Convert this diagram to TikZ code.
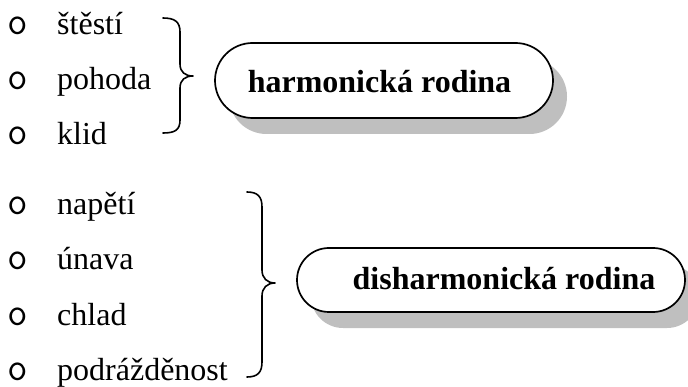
\documentclass[tikz,border=0pt]{standalone}
\usepackage{fontspec}
\setmainfont{Liberation Serif}
\usetikzlibrary{shapes.misc,shadows}
\begin{document}
\begin{tikzpicture}[x=1pt,y=-1pt,
  itemtext/.style={anchor=base west,inner sep=0pt,font=\fontsize{32}{38}\selectfont},
  bullet/.style={anchor=base west,inner sep=0pt,font=\ttfamily\fontsize{40}{46}\selectfont},
  labeltext/.style={anchor=base,inner sep=0pt,font=\bfseries\fontsize{32}{38}\selectfont},
  stadium/.style={rounded rectangle,draw,line width=1.7pt,fill=white,inner sep=0pt,
    drop shadow={shadow xshift=14pt,shadow yshift=-16pt,fill=black!25,opacity=1}},
  bracepath/.style={line width=1.6pt,line cap=round,line join=round}
]
\useasboundingbox (0,0) rectangle (688,387);

% first group
\node[bullet] (b1) at (7,35) {o};
\node[bullet] (b2) at (7,90) {o};
\node[bullet] (b3) at (7,145) {o};
\node[itemtext] (t1) at (57,35) {štěstí};
\node[itemtext] (t2) at (57,90) {pohoda};
\node[itemtext] (t3) at (57,145) {klid};

% second group
\node[bullet] (b4) at (7,215) {o};
\node[bullet] (b5) at (7,270) {o};
\node[bullet] (b6) at (7,325) {o};
\node[bullet] (b7) at (7,380) {o};
\node[itemtext] (t4) at (57,215) {napětí};
\node[itemtext] (t5) at (57,270) {únava};
\node[itemtext] (t6) at (57,325) {chlad};
\node[itemtext] (t7) at (57,380) {podrážděnost};

% braces
\draw[bracepath] (163,18) .. controls (175,18) and (180,22) .. (180,32) -- (180,64)
  .. controls (180,72) and (185,76) .. (193,76)
  .. controls (185,76) and (180,80) .. (180,88) -- (180,120)
  .. controls (180,130) and (175,133) .. (163,133);
\draw[bracepath] (247,192) .. controls (258,192) and (262,197) .. (262,207) -- (262,270)
  .. controls (262,278) and (267,283) .. (275,283)
  .. controls (267,283) and (262,288) .. (262,296) -- (262,362)
  .. controls (262,372) and (258,377) .. (247,377);

% boxes
\node[stadium,minimum width=338pt,minimum height=75pt] (h) at (384,80.5) {};
\node[labeltext] (hl) at (379.5,93) {harmonická rodina};
\node[stadium,minimum width=388pt,minimum height=64pt] (d) at (491,280) {};
\node[labeltext] (dl) at (504,290) {disharmonická rodina};
\end{tikzpicture}
\end{document}
